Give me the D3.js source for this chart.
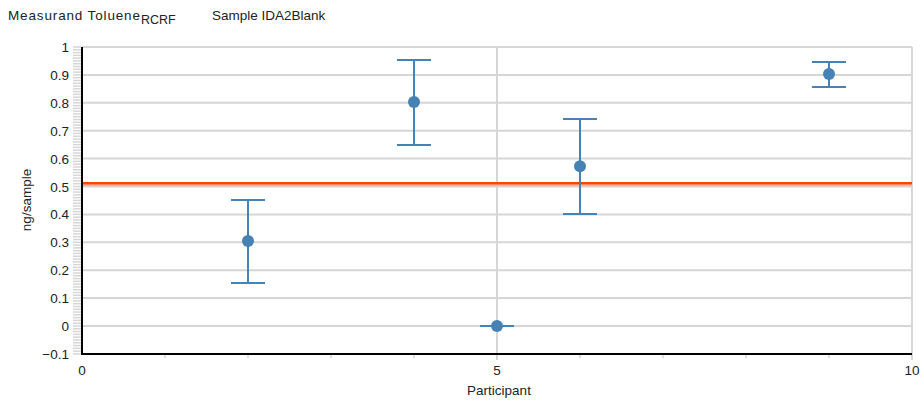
<!DOCTYPE html>
<html><head><meta charset="utf-8">
<script src="https://cdn.jsdelivr.net/npm/d3@7"></script>
<style>body{margin:0;background:#fff;font-family:"Liberation Sans",Arial,sans-serif}</style>
</head><body><svg id="c" width="924" height="405"></svg>
<script>
const participants = [2, 4, 5, 6, 9];
const values = [0.305, 0.803, 0.0, 0.573, 0.903];
const lower = [0.154, 0.649, 0.0, 0.401, 0.857];
const upper = [0.452, 0.953, 0.0, 0.742, 0.946];
const refValue = 0.512;
const yTicks = [-0.1, 0, 0.1, 0.2, 0.3, 0.4, 0.5, 0.6, 0.7, 0.8, 0.9, 1];
const xTicks = [0, 5, 10];

const svg = d3.select("#c");
const x = d3.scaleLinear().domain([0, 10]).range([82, 912]);
const y = d3.scaleLinear().domain([-0.1, 1]).range([353.9, 47]);
const grid = "#d6d6d6";
const fs = 13.5;

svg.append("g").selectAll("line").data(yTicks.filter(d => d > -0.1)).join("line")
  .attr("x1", x(0)).attr("x2", x(10)).attr("y1", d => y(d)).attr("y2", d => y(d))
  .attr("stroke", grid).attr("stroke-width", 2);
svg.append("g").selectAll("line").data([5, 10]).join("line")
  .attr("x1", d => x(d)).attr("x2", d => x(d)).attr("y1", y(1)).attr("y2", y(-0.1) + 6)
  .attr("stroke", grid).attr("stroke-width", 2);

const minor = d3.range(-10, 101).map(i => i / 100);
svg.append("g").selectAll("line").data(minor).join("line")
  .attr("x1", x(0) - 9).attr("x2", x(0) - 1).attr("y1", d => y(d)).attr("y2", d => y(d))
  .attr("stroke", grid).attr("stroke-width", 1.5);
svg.append("g").selectAll("line").data([1,2,3,4,6,7,8,9]).join("line")
  .attr("x1", d => x(d)).attr("x2", d => x(d)).attr("y1", y(-0.1)).attr("y2", y(-0.1) + 4)
  .attr("stroke", grid).attr("stroke-width", 1.5);

svg.append("line").attr("x1", x(0)).attr("x2", x(0)).attr("y1", y(1)).attr("y2", y(-0.1))
  .attr("stroke", "#000").attr("stroke-width", 2);
svg.append("line").attr("x1", x(0) - 1).attr("x2", x(10)).attr("y1", y(-0.1)).attr("y2", y(-0.1))
  .attr("stroke", "#000").attr("stroke-width", 2);

svg.append("g").selectAll("text").data(yTicks).join("text")
  .attr("x", 69).attr("y", d => y(d) + 5).attr("text-anchor", "end")
  .attr("font-size", fs).attr("fill", "#222").text(d => d3.format("~g")(d));
svg.append("g").selectAll("text").data(xTicks).join("text")
  .attr("x", d => x(d)).attr("y", 375).attr("text-anchor", "middle")
  .attr("font-size", fs).attr("fill", "#222").text(d => d);

svg.append("line").attr("x1", x(0) + 1).attr("x2", x(10)).attr("y1", y(refValue) + 2).attr("y2", y(refValue) + 2)
  .attr("stroke", "#f5b3a0").attr("stroke-width", 2);
svg.append("line").attr("x1", x(0) + 1).attr("x2", x(10)).attr("y1", y(refValue)).attr("y2", y(refValue))
  .attr("stroke", "#ff4500").attr("stroke-width", 2.5);

const col = "#4682b4";
const eg = svg.append("g").attr("stroke", col).attr("stroke-width", 2);
participants.forEach((p, i) => {
  eg.append("line").attr("x1", x(p)).attr("x2", x(p)).attr("y1", y(lower[i])).attr("y2", y(upper[i]));
  [lower[i], upper[i]].forEach(v => {
    eg.append("line").attr("x1", x(p) - 17).attr("x2", x(p) + 17).attr("y1", y(v)).attr("y2", y(v));
  });
});
svg.append("g").selectAll("circle").data(participants).join("circle")
  .attr("cx", d => x(d)).attr("cy", (d, i) => y(values[i])).attr("r", 6).attr("fill", col);

svg.append("text").attr("x", 8).attr("y", 20).attr("font-size", fs).attr("fill", "#222")
  .attr("textLength", 132).attr("lengthAdjust", "spacing").text("Measurand Toluene");
svg.append("text").attr("x", 141).attr("y", 24).attr("font-size", 12.5).attr("fill", "#222").text("RCRF");
svg.append("text").attr("x", 212).attr("y", 20).attr("font-size", fs).attr("fill", "#222").text("Sample IDA2Blank");

svg.append("text").attr("transform", "translate(31,200) rotate(-90)").attr("text-anchor", "middle")
  .attr("font-size", fs).attr("fill", "#222").text("ng/sample");
svg.append("text").attr("x", 499).attr("y", 395).attr("text-anchor", "middle")
  .attr("font-size", fs).attr("fill", "#222").text("Participant");
</script></body></html>
